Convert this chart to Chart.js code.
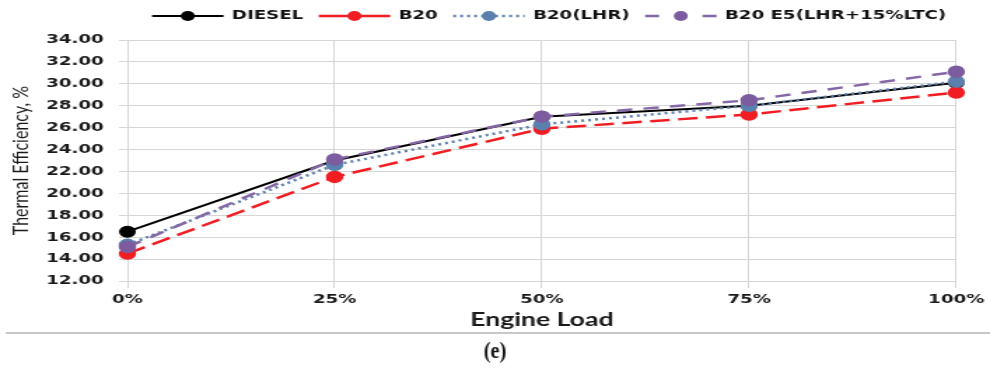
<!DOCTYPE html>
<html>
<head>
<meta charset="utf-8">
<script src="https://cdn.jsdelivr.net/npm/chart.js@4/dist/chart.umd.min.js"></script>
<style>
  html, body { margin:0; padding:0; background:#fff; }
  #wrap { position:absolute; left:0; top:0; width:707px; height:368px; transform:scaleX(1.40028); transform-origin:0 0; }
</style>
</head>
<body>
<div id="wrap"><canvas id="c"></canvas></div>
<script>
const categories = ['0%', '25%', '50%', '75%', '100%'];
const seriesNames = ['DIESEL', 'B20', 'B20(LHR)', 'B20 E5(LHR+15%LTC)'];
const diesel = [16.5, 23.0, 27.0, 28.0, 30.1];
const b20 = [14.5, 21.5, 25.9, 27.2, 29.2];
const b20LHR = [15.3, 22.6, 26.3, 28.0, 30.2];
const b20E5 = [15.1, 23.1, 27.0, 28.5, 31.1];
const yMin = 12, yMax = 34, yStep = 2;
const xTitle = 'Engine Load';
const yTitle = 'Thermal Efficiency, %';
const caption = '(e)';

const SX = 1.40028;
const tickFont = { family: 'DejaVu Sans', weight: 'bold', size: 13 };

const legendPlugin = {
  id: 'customLegend',
  afterDraw(chart) {
    const ctx = chart.ctx;
    ctx.save();
    ctx.font = 'bold 13px "DejaVu Sans"';
    ctx.textBaseline = 'middle';
    let x = 108.6;
    const y = 16;
    chart.data.datasets.forEach(ds => {
      ctx.strokeStyle = ds.borderColor;
      ctx.lineWidth = ds.borderWidth;
      ctx.setLineDash(ds.legendDash || []);
      ctx.beginPath(); ctx.moveTo(x, y); ctx.lineTo(x + 51, y); ctx.stroke();
      ctx.setLineDash([]);
      ctx.fillStyle = ds.pointBackgroundColor;
      ctx.beginPath(); ctx.arc(x + 25.5, y, ds.pointRadius, 0, Math.PI * 2); ctx.fill();
      x += 57;
      ctx.fillStyle = '#111';
      ctx.textAlign = 'left';
      ctx.fillText(ds.label, x, y);
      x += ctx.measureText(ds.label).width + 11;
    });
    // separator line and caption
    ctx.strokeStyle = '#c8c8c8';
    ctx.lineWidth = 2;
    ctx.beginPath(); ctx.moveTo(4, 333); ctx.lineTo(707, 333); ctx.stroke();
    ctx.translate(353.5, 352);
    ctx.scale(0.85 / SX, 1);
    ctx.fillStyle = '#111';
    ctx.font = 'bold 24px "Liberation Serif"';
    ctx.textAlign = 'center';
    ctx.fillText(caption, 0, 0);
    ctx.restore();
  }
};

new Chart(document.getElementById('c'), {
  type: 'line',
  data: {
    labels: categories,
    datasets: [
      { label: seriesNames[0], data: diesel, borderColor: '#000000', backgroundColor: '#000000',
        pointBackgroundColor: '#000000', pointBorderColor: '#000000', borderWidth: 2, pointRadius: 5,
        borderDash: [], legendDash: [], order: 4 },
      { label: seriesNames[1], data: b20, borderColor: '#f01e23', backgroundColor: '#f01e23',
        pointBackgroundColor: '#f01e23', pointBorderColor: '#f01e23', borderWidth: 2.5, pointRadius: 5,
        borderDash: [14, 6], legendDash: [], order: 3 },
      { label: seriesNames[2], data: b20LHR, borderColor: '#5b7fae', backgroundColor: '#5b7fae',
        pointBackgroundColor: '#5b80ad', pointBorderColor: '#5b80ad', borderWidth: 2.5, pointRadius: 5,
        borderDash: [2, 3], legendDash: [2, 3], order: 2 },
      { label: seriesNames[3], data: b20E5, borderColor: '#8567a6', backgroundColor: '#8567a6',
        pointBackgroundColor: '#7c5c9e', pointBorderColor: '#7c5c9e', borderWidth: 2.5, pointRadius: 5,
        borderDash: [11, 8], legendDash: [10, 31], order: 1 }
    ]
  },
  options: {
    responsive: true,
    maintainAspectRatio: false,
    animation: false,
    layout: { padding: { left: 0, right: 22, top: 40, bottom: 37 } },
    plugins: { legend: { display: false }, tooltip: { enabled: false } },
    elements: { line: { tension: 0 }, point: { borderWidth: 0 } },
    scales: {
      x: {
        type: 'category',
        offset: false,
        grid: { color: '#d6d6d6', lineWidth: 1, tickLength: 7, offset: false },
        border: { color: '#d6d6d6' },
        ticks: { font: tickFont, color: '#1a1a1a', padding: 4, maxRotation: 0 },
        title: { display: true, text: xTitle, font: { family: 'Lato', weight: 'bold', size: 19 }, color: '#1a1a1a', padding: { top: 0, bottom: 0 } },
        afterFit(s) { s.height = 50; }
      },
      y: {
        min: yMin, max: yMax,
        grid: { color: '#d6d6d6', lineWidth: 1, tickLength: 6 },
        border: { color: '#d6d6d6' },
        ticks: { stepSize: yStep, font: tickFont, color: '#1a1a1a', padding: 11, callback: v => Number(v).toFixed(2) },
        title: { display: true, text: yTitle, font: { family: 'Lato', size: 16 }, color: '#1a1a1a', padding: { top: 5, bottom: 0 } },
        afterFit(s) { s.width = 91; }
      }
    }
  },
  plugins: [legendPlugin]
});
</script>
</body>
</html>
